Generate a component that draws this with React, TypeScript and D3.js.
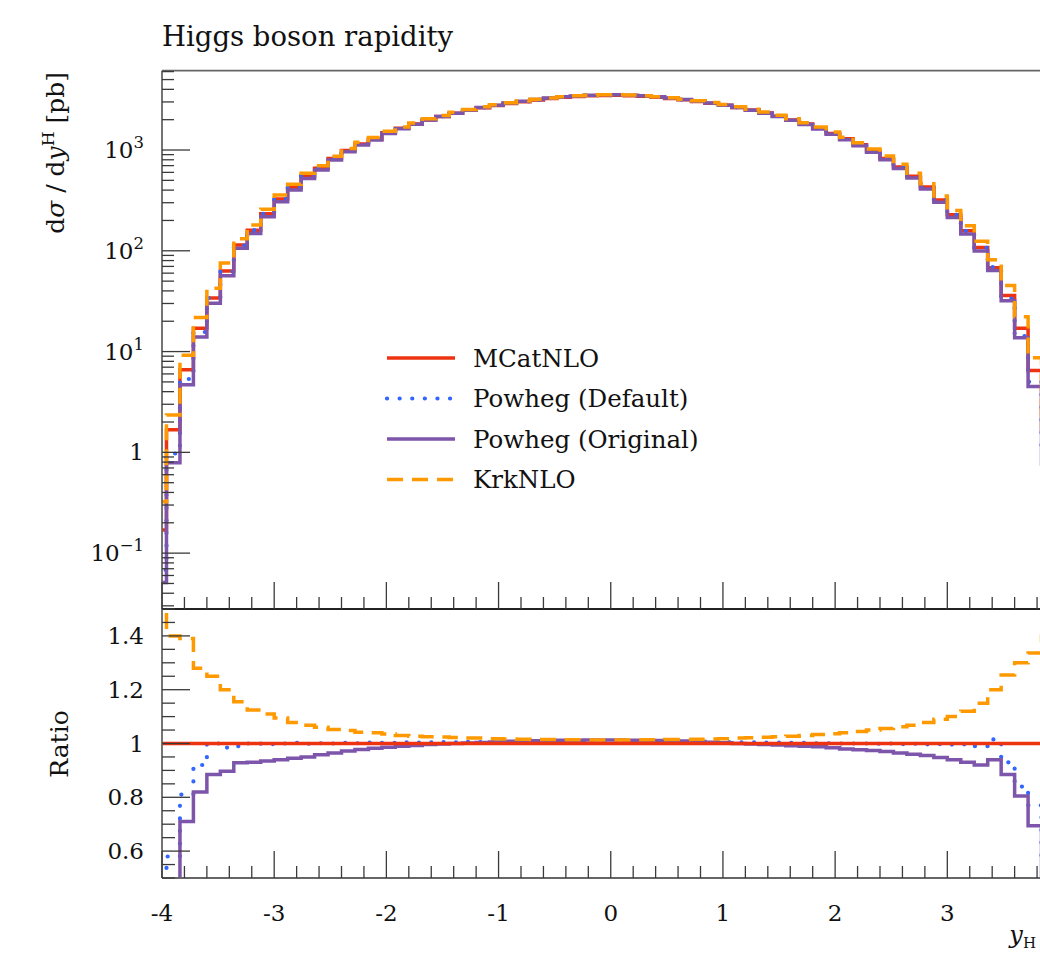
import React from "react";
import * as d3 from "d3";

// Bin edges: 0.12 wide, visible range [-4, 4]
const binEdges: number[] = d3.range(0, 69).map((i) => Math.round((-4.08 + 0.12 * i) * 1000) / 1000);

// MCatNLO absolute cross section per bin [pb]
const mcatnlo: number[] = [
  0.17, 1.68, 6.6, 17, 34, 63, 114, 160, 233, 327, 424, 550, 660, 825, 990, 1146, 1280,
  1480, 1645, 1810, 1990, 2150, 2320, 2480, 2630, 2770, 2900, 3020, 3140, 3240, 3330, 3400, 3450, 3480,
  3490, 3460, 3410, 3340, 3250, 3150, 3030, 2910, 2780, 2640, 2490, 2330, 2160, 1990, 1810, 1640,
  1460, 1290, 1130, 975, 825, 680, 550, 430, 320, 228, 158, 108, 68, 36, 17, 6.5, 1.7, 0.17,
];

// Ratios to MCatNLO
const powhegDefaultRatio: number[] = [
  0.4, 0.58, 0.81, 0.92, 1.0, 0.985, 0.99, 1.0, 0.998, 1.0, 1.002, 0.999, 1.001, 1.0, 1.002, 1.001, 1.003,
  1.002, 1.004, 1.003, 1.004, 1.005, 1.004, 1.006, 1.005, 1.006, 1.007, 1.006, 1.007, 1.008, 1.007, 1.008, 1.008, 1.009,
  1.009, 1.008, 1.008, 1.007, 1.007, 1.006, 1.006, 1.005, 1.005, 1.004, 1.004, 1.003, 1.003, 1.002, 1.002, 1.001,
  1.001, 1.0, 1.0, 0.999, 1.0, 0.998, 0.999, 0.997, 0.998, 0.996, 0.997, 0.99, 1.015, 0.93, 0.84, 0.77, 0.55, 0.4,
];
const powhegOriginalRatio: number[] = [
  0.3, 0.47, 0.71, 0.82, 0.885, 0.897, 0.928, 0.93, 0.935, 0.94, 0.945, 0.95, 0.958, 0.965, 0.972, 0.978, 0.982,
  0.986, 0.99, 0.993, 0.996, 0.998, 1.0, 1.002, 1.004, 1.006, 1.008, 1.009, 1.01, 1.011, 1.012, 1.012, 1.013, 1.013,
  1.013, 1.012, 1.012, 1.011, 1.01, 1.009, 1.007, 1.005, 1.003, 1.0, 0.998, 0.996, 0.994, 0.992, 0.99, 0.988,
  0.984, 0.98, 0.977, 0.974, 0.97, 0.965, 0.96, 0.955, 0.948, 0.94, 0.93, 0.92, 0.94, 0.885, 0.805, 0.694, 0.45, 0.3,
];
const krknloRatio: number[] = [
  1.9, 1.4, 1.39, 1.28, 1.25, 1.2, 1.155, 1.125, 1.11, 1.095, 1.078, 1.068, 1.06, 1.052, 1.048, 1.042, 1.04,
  1.035, 1.03, 1.027, 1.025, 1.024, 1.022, 1.02, 1.02, 1.018, 1.017, 1.016, 1.015, 1.015, 1.014, 1.014, 1.013, 1.013,
  1.013, 1.013, 1.014, 1.014, 1.015, 1.015, 1.016, 1.017, 1.018, 1.02, 1.021, 1.023, 1.025, 1.027, 1.03, 1.033,
  1.036, 1.04, 1.045, 1.05, 1.056, 1.062, 1.068, 1.078, 1.09, 1.1, 1.12, 1.15, 1.2, 1.255, 1.3, 1.336, 1.4, 1.6,
];

const seriesNames = ["MCatNLO", "Powheg (Default)", "Powheg (Original)", "KrkNLO"];
const xTickValues = [-4, -3, -2, -1, 0, 1, 2, 3];
const xTickLabels = ["-4", "-3", "-2", "-1", "0", "1", "2", "3"];
const logMajor = [0.1, 1, 10, 100, 1000];
const logMajorLabels: [string, string][] = [["10", "\u22121"], ["1", ""], ["10", "1"], ["10", "2"], ["10", "3"]];
const ratioMajor = [0.6, 0.8, 1.0, 1.2, 1.4];
const ratioLabels = ["0.6", "0.8", "1", "1.2", "1.4"];

const styles = [
  { color: "#ee3311", dash: "", width: 3.5, cap: "butt" },
  { color: "#3366ff", dash: "0.1 12.5", width: 4.2, cap: "round" },
  { color: "#7d55aa", dash: "", width: 3.5, cap: "butt" },
  { color: "#ff9900", dash: "16 9", width: 3.5, cap: "butt" },
];

const FONT = "'DejaVu Serif', serif";

export default function App() {
  const L = 162, R = 1059.5, T = 70.7, M = 609, B = 878;
  const x = d3.scaleLinear().domain([-4, 4]).range([L, R]);
  const yMain = d3.scaleLog().domain([0.0279, 6124]).range([M, T]);
  const yRatio = d3.scaleLinear().domain([0.5, 1.5]).range([B, M]);

  const abs = [
    mcatnlo,
    mcatnlo.map((v, i) => v * powhegDefaultRatio[i]),
    mcatnlo.map((v, i) => v * powhegOriginalRatio[i]),
    mcatnlo.map((v, i) => v * krknloRatio[i]),
  ];
  const ratios = [mcatnlo.map(() => 1), powhegDefaultRatio, powhegOriginalRatio, krknloRatio];

  const stepPath = (vals: number[], ys: (v: number) => number) => {
    const pts: [number, number][] = binEdges.map((e, i) => [e, vals[Math.min(i, vals.length - 1)]]);
    return d3
      .line<[number, number]>()
      .x((d) => x(d[0]))
      .y((d) => {
        const y = ys(d[1]);
        return Math.max(-50, Math.min(1200, y));
      })
      .curve(d3.curveStepAfter)(pts) as string;
  };

  const xMinor = d3.range(-4, 4.0001, 0.2).map((v) => Math.round(v * 10) / 10);
  const logMinor: number[] = [];
  for (let e = -2; e <= 3; e++) {
    for (let k = 2; k <= 9; k++) {
      const v = k * Math.pow(10, e);
      if (v > 0.0279 && v < 6124) logMinor.push(v);
    }
  }
  const ratioMinor = d3.range(0.5, 1.5001, 0.05).map((v) => Math.round(v * 100) / 100);

  const tickColor = "#3a3a3a";
  const frameColor = "#666";

  const upperOrder = [0, 1, 2, 3];
  const ratioOrder = [1, 2, 3, 0];

  return (
    <svg
      width={1040}
      height={956}
      style={{ position: "absolute", left: 0, top: 0, background: "#fff" }}
      fontFamily={FONT}
    >
      <defs>
        <clipPath id="clipUpper">
          <rect x={L} y={T} width={R - L} height={M - T} />
        </clipPath>
        <clipPath id="clipRatio">
          <rect x={L} y={M} width={R - L} height={B - M} />
        </clipPath>
      </defs>
      <rect x={0} y={0} width={1040} height={956} fill="#fff" />

      {/* Title */}
      <text x={L} y={46} fontSize={27.5} fill="#111">
        Higgs boson rapidity
      </text>

      {/* Upper panel series */}
      <g clipPath="url(#clipUpper)">
        {upperOrder.map((s) => (
          <path
            key={"u" + s}
            d={stepPath(abs[s], (v) => (v > 0 ? yMain(v) : 2000))}
            fill="none"
            stroke={styles[s].color}
            strokeWidth={styles[s].width}
            strokeDasharray={styles[s].dash || undefined}
            strokeLinecap={styles[s].cap as any}
          />
        ))}
      </g>

      {/* Ratio panel series */}
      <g clipPath="url(#clipRatio)">
        {ratioOrder.map((s) => (
          <path
            key={"r" + s}
            d={stepPath(ratios[s], (v) => yRatio(v))}
            fill="none"
            stroke={styles[s].color}
            strokeWidth={styles[s].width}
            strokeDasharray={styles[s].dash || undefined}
            strokeLinecap={styles[s].cap as any}
          />
        ))}
      </g>

      {/* Frames */}
      <g stroke={frameColor} strokeWidth={1.8} fill="none">
        <line x1={L} y1={T} x2={R} y2={T} />
        <line x1={L} y1={T} x2={L} y2={B} />
        <line x1={R} y1={T} x2={R} y2={B} />
        <line x1={L} y1={B} x2={R} y2={B} />
      </g>
      <line x1={L} y1={M} x2={R} y2={M} stroke="#222" strokeWidth={1.8} />

      {/* X ticks on upper bottom and ratio bottom */}
      <g stroke={tickColor} strokeWidth={1.3}>
        {[M, B].map((base) => (
          <g key={"xt" + base}>
            {xMinor.map((v) => {
              const major = Math.abs(v - Math.round(v)) < 1e-6;
              return (
                <line key={v} x1={x(v)} x2={x(v)} y1={base} y2={base - (major ? 27 : 12)} />
              );
            })}
          </g>
        ))}
        {/* Upper y ticks */}
        {logMajor.map((v) => (
          <line key={"lm" + v} x1={L} x2={L + 28} y1={yMain(v)} y2={yMain(v)} />
        ))}
        {logMinor.map((v) => (
          <line key={"ln" + v} x1={L} x2={L + 12} y1={yMain(v)} y2={yMain(v)} />
        ))}
        {/* Ratio y ticks */}
        {ratioMinor.map((v) => {
          const major = ratioMajor.some((m) => Math.abs(m - v) < 1e-6);
          return (
            <line key={"rt" + v} x1={L} x2={L + (major ? 28 : 13)} y1={yRatio(v)} y2={yRatio(v)} />
          );
        })}
      </g>

      {/* Upper y labels */}
      <g fontSize={23} fill="#111" textAnchor="end">
        {logMajor.map((v, i) => (
          <text key={"ll" + v} x={144} y={yMain(v) + 8}>
            {logMajorLabels[i][0]}
            {logMajorLabels[i][1] && (
              <tspan fontSize={16.5} dy={-10}>
                {logMajorLabels[i][1]}
              </tspan>
            )}
          </text>
        ))}
        {ratioMajor.map((v, i) => (
          <text key={"rl" + v} x={144} y={yRatio(v) + 8}>
            {ratioLabels[i]}
          </text>
        ))}
      </g>

      {/* X labels */}
      <g fontSize={23} fill="#111" textAnchor="middle">
        {xTickValues.map((v, i) => (
          <text key={"xl" + v} x={x(v)} y={921}>
            {xTickLabels[i]}
          </text>
        ))}
      </g>

      {/* Axis titles */}
      <text
        transform="translate(64,72) rotate(-90)"
        textAnchor="end"
        fontSize={25}
        fill="#111"
      >
        d<tspan fontStyle="italic">σ</tspan> / d<tspan fontStyle="italic">y</tspan>
        <tspan fontSize={17} dy={-10}>H</tspan>
        <tspan dy={10}> [pb]</tspan>
      </text>
      <text transform="translate(68,744) rotate(-90)" textAnchor="middle" fontSize={25} fill="#111">
        Ratio
      </text>
      <text x={1036} y={943} textAnchor="end" fontSize={24} fontStyle="italic" fill="#111">
        y<tspan fontSize={15} fontStyle="normal" dy={5}>H</tspan>
      </text>

      {/* Legend */}
      <g>
        {seriesNames.map((name, i) => {
          const yy = 358 + i * 40.5;
          return (
            <g key={name}>
              <line
                x1={387}
                x2={455}
                y1={yy}
                y2={yy}
                stroke={styles[i].color}
                strokeWidth={styles[i].width}
                strokeDasharray={styles[i].dash || undefined}
                strokeLinecap={styles[i].cap as any}
              />
              <text x={473} y={yy + 8.5} fontSize={24.5} fill="#111">
                {name}
              </text>
            </g>
          );
        })}
      </g>
    </svg>
  );
}
